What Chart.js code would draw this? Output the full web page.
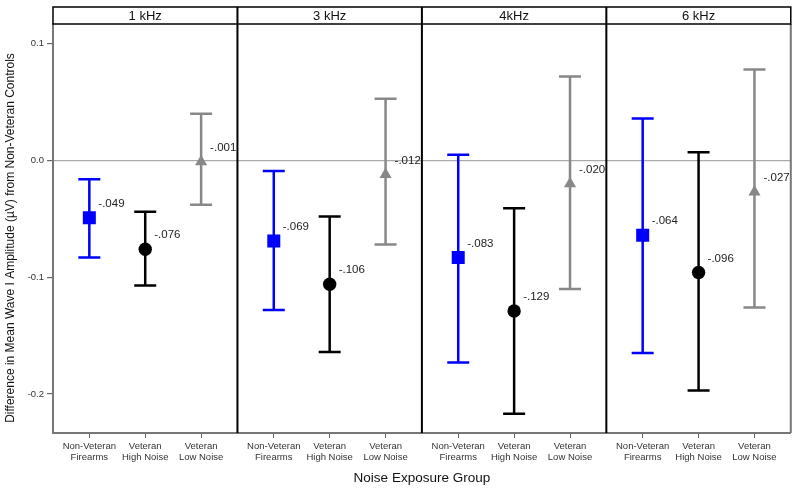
<!DOCTYPE html>
<html>
<head>
<meta charset="utf-8">
<script src="https://cdn.jsdelivr.net/npm/chart.js@4.4.1/dist/chart.umd.min.js"></script>
<style>
  body { margin: 0; background: #fff; }
  #wrap { width: 800px; height: 491px; position: relative; }
</style>
</head>
<body>
<div id="wrap"><canvas id="waveChart"></canvas></div>
<script>
// --- 1. DATA ---
const freqLabels = ['1 kHz', '3 kHz', '4kHz', '6 kHz'];
const groupTickLines = [['Non-Veteran', 'Firearms'], ['Veteran', 'High Noise'], ['Veteran', 'Low Noise']];
const yTickValues = [-0.2, -0.1, 0.0, 0.1];
const yTitle = 'Difference in Mean Wave I Amplitude (µV) from Non-Veteran Controls';

// Non-Veteran Firearms
const nvfMean = [-0.049, -0.069, -0.083, -0.064];
const nvfLow  = [-0.083, -0.128, -0.173, -0.165];
const nvfHigh = [-0.016, -0.009,  0.005,  0.036];
// Veteran High Noise
const vhnMean = [-0.076, -0.106, -0.129, -0.096];
const vhnLow  = [-0.107, -0.164, -0.217, -0.197];
const vhnHigh = [-0.044, -0.048, -0.041,  0.007];
// Veteran Low Noise
const vlnMean = [-0.001, -0.012, -0.020, -0.027];
const vlnLow  = [-0.038, -0.072, -0.110, -0.126];
const vlnHigh = [ 0.040,  0.053,  0.072,  0.078];

// --- 2. LAYOUT HELPERS ---
const PANEL_SPAN = 3.3;   // x units per facet
const CAT_PAD = 0.65;     // gap before first category in a facet
const groupMeans = [nvfMean, vhnMean, vlnMean];
const groupLows = [nvfLow, vhnLow, vlnLow];
const groupHighs = [nvfHigh, vhnHigh, vlnHigh];
const groupColors = ['#0000ff', '#000000', '#888888'];
const FONT = "'Liberation Sans', Arial, sans-serif";

function catX(panel, i) { return panel * PANEL_SPAN + CAT_PAD + i; }

const tickPositions = [];
freqLabels.forEach((f, p) => groupTickLines.forEach((g, i) => tickPositions.push(catX(p, i))));

function fmtMean(v) {
    return v.toFixed(3).replace('0.', '.');
}

// --- 3. FACETS, ERROR BARS, LABELS ---
const facetPlugin = {
    id: 'facets',
    beforeDatasetsDraw(chart) {
        const ctx = chart.ctx, xs = chart.scales.x, ys = chart.scales.y;
        ctx.save();
        ctx.lineWidth = 2.5;
        groupMeans.forEach((means, g) => {
            ctx.strokeStyle = groupColors[g];
            means.forEach((m, p) => {
                const x = xs.getPixelForValue(catX(p, g));
                const yLo = ys.getPixelForValue(groupLows[g][p]);
                const yHi = ys.getPixelForValue(groupHighs[g][p]);
                ctx.beginPath();
                ctx.moveTo(x, yLo); ctx.lineTo(x, yHi);
                ctx.moveTo(x - 11, yLo); ctx.lineTo(x + 11, yLo);
                ctx.moveTo(x - 11, yHi); ctx.lineTo(x + 11, yHi);
                ctx.stroke();
            });
        });
        ctx.restore();
    },
    afterDatasetsDraw(chart) {
        const ctx = chart.ctx, xs = chart.scales.x, ys = chart.scales.y;
        ctx.save();
        ctx.font = '11.5px ' + FONT;
        ctx.fillStyle = '#222';
        ctx.textAlign = 'left';
        ctx.textBaseline = 'middle';
        groupMeans.forEach((means, g) => {
            means.forEach((m, p) => {
                const x = xs.getPixelForValue(catX(p, g));
                const y = ys.getPixelForValue(m);
                ctx.fillText(fmtMean(m), x + 9, y - 14);
            });
        });
        ctx.restore();
    },
    afterDraw(chart) {
        const ctx = chart.ctx, a = chart.chartArea, xs = chart.scales.x;
        const stripTop = a.top - 17;
        ctx.save();
        // right frame edge
        ctx.strokeStyle = '#777';
        ctx.lineWidth = 2;
        ctx.beginPath();
        ctx.moveTo(a.right, a.top); ctx.lineTo(a.right, a.bottom);
        ctx.stroke();
        // strip box
        ctx.strokeStyle = '#000';
        ctx.lineWidth = 1.5;
        ctx.strokeRect(a.left, stripTop, a.right - a.left, a.top - stripTop);
        // facet dividers
        ctx.lineWidth = 2;
        for (let p = 1; p < freqLabels.length; p++) {
            const x = xs.getPixelForValue(p * PANEL_SPAN);
            ctx.beginPath();
            ctx.moveTo(x, stripTop); ctx.lineTo(x, a.bottom);
            ctx.stroke();
        }
        // strip titles
        ctx.fillStyle = '#111';
        ctx.font = '13px ' + FONT;
        ctx.textAlign = 'center';
        ctx.textBaseline = 'middle';
        freqLabels.forEach((f, p) => {
            const x = xs.getPixelForValue((p + 0.5) * PANEL_SPAN);
            ctx.fillText(f, x, (stripTop + a.top) / 2 + 0.5);
        });
        // y axis title (sits a little below the plot centre in the original)
        ctx.translate(11, 238);
        ctx.rotate(-Math.PI / 2);
        ctx.font = '12px ' + FONT;
        ctx.fillText(yTitle, 0, 0);
        ctx.restore();
    }
};

// --- 4. CHART ---
function initChart() {
    const datasets = groupMeans.map((means, g) => ({
        data: means.map((m, p) => ({ x: catX(p, g), y: m })),
        pointStyle: ['rect', 'circle', 'triangle'][g],
        pointRadius: [9.2, 6.7, 7][g],
        backgroundColor: groupColors[g],
        borderColor: groupColors[g],
        borderWidth: 0,
        showLine: false
    }));

    new Chart(document.getElementById('waveChart'), {
        type: 'scatter',
        data: { datasets },
        options: {
            responsive: true,
            maintainAspectRatio: false,
            animation: false,
            layout: { padding: { top: 24, right: 8, left: 0, bottom: 0 } },
            plugins: { legend: { display: false }, tooltip: { enabled: false } },
            scales: {
                x: {
                    type: 'linear',
                    min: 0,
                    max: freqLabels.length * PANEL_SPAN,
                    afterBuildTicks: s => { s.ticks = tickPositions.map(v => ({ value: v })); },
                    afterFit: s => { s.height = 58; },
                    ticks: {
                        autoSkip: false, maxRotation: 0, padding: 3,
                        color: '#333',
                        font: { family: FONT, size: 9.5, lineHeight: 1.16 },
                        callback: (v, i) => groupTickLines[i % 3]
                    },
                    grid: { drawOnChartArea: false, drawTicks: true, tickLength: 5, tickColor: '#666' },
                    border: { display: true, color: '#777', width: 2 },
                    title: {
                        display: true, text: 'Noise Exposure Group', color: '#111',
                        font: { family: FONT, size: 13.5 }, padding: { top: 0, bottom: 5 }
                    }
                },
                y: {
                    min: -0.2335,
                    max: 0.117,
                    afterBuildTicks: s => { s.ticks = yTickValues.map(v => ({ value: v })); },
                    afterFit: s => { s.width = 53; },
                    ticks: {
                        padding: 3, color: '#333',
                        font: { family: FONT, size: 9.5 },
                        callback: v => v.toFixed(1)
                    },
                    grid: {
                        color: c => (c.tick && c.tick.value === 0 ? '#aaa' : 'rgba(0,0,0,0)'),
                        lineWidth: 1.2,
                        tickLength: 6, tickColor: '#666'
                    },
                    border: { display: true, color: '#777', width: 2 }
                }
            }
        },
        plugins: [facetPlugin]
    });
}

window.onload = initChart;
</script>
</body>
</html>
